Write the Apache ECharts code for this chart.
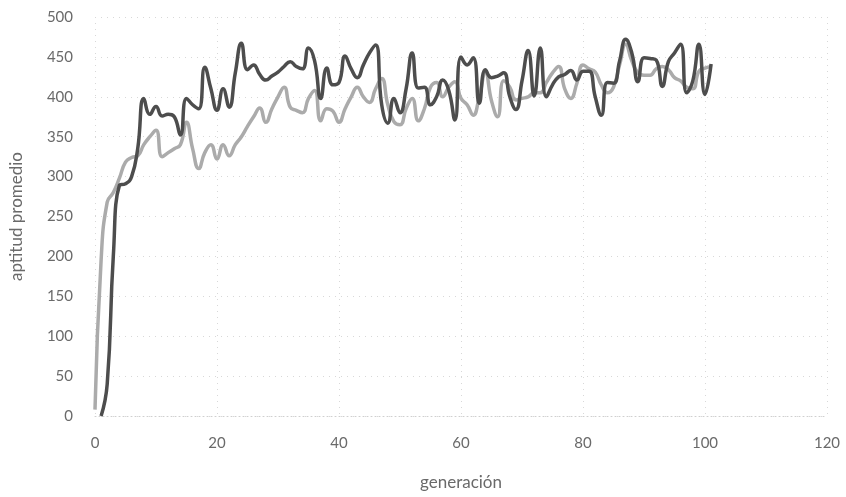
<!DOCTYPE html>
<html>
<head>
<meta charset="utf-8">
<script src="https://cdn.jsdelivr.net/npm/echarts@6/dist/echarts.min.js"></script>
<style>
  html, body { margin: 0; padding: 0; background: #ffffff; }
  #chart { width: 846px; height: 497px; }
</style>
</head>
<body>
<div id="chart"></div>
<script>
// aptitud promedio por generación
var oscura = [null, 0, 40, 200, 289, 291, 300, 335, 398, 378,
  388, 376, 378, 375, 352, 398, 390, 385, 437, 410,
  383, 410, 387, 430, 467, 434, 440, 428, 421, 426,
  431, 438, 444, 438, 435, 461, 445, 398, 436, 415,
  418, 451, 435, 424, 440, 455, 465, 390, 367, 398,
  380, 410, 455, 411, 412, 390, 400, 421, 408, 371,
  450, 440, 449, 392, 434, 424, 426, 430, 400, 384,
  420, 458, 401, 461, 400, 415, 425, 428, 433, 421,
  432, 432, 400, 377, 418, 417, 445, 472, 455, 419,
  449, 448, 446, 413, 444, 455, 466, 405, 420, 466,
  403, 441];
var clara = [8, 195, 268, 280, 298, 318, 324, 326, 340, 350,
  358, 325, 330, 335, 340, 368, 335, 310, 330, 340,
  322, 340, 326, 340, 350, 363, 375, 386, 368, 385,
  400, 412, 387, 383, 380, 398, 408, 370, 385, 382,
  368, 385, 400, 412, 400, 393, 410, 423, 390, 369,
  365, 385, 398, 370, 385, 412, 418, 400, 412, 419,
  398, 390, 377, 400, 430, 395, 375, 420, 412, 396,
  398, 400, 405, 405, 418, 430, 438, 410, 398, 417,
  440, 435, 431, 415, 405, 412, 440, 466, 445, 430,
  427, 427, 435, 438, 434, 424, 420, 412, 410, 432,
  436, 438];

// generaciones 0..101
var generacion = [];
for (var i = 0; i < clara.length; i++) {
  generacion.push(i);
}

function pares(valores) {
  var res = [];
  for (var i = 0; i < valores.length; i++) {
    res.push([generacion[i], valores[i]]);
  }
  return res;
}

var chart = echarts.init(document.getElementById('chart'));
var fuente = 'Lato';
var gris = '#6a6a6a';

chart.setOption({
  animation: false,
  backgroundColor: '#ffffff',
  grid: { left: 95, right: 19, top: 17, bottom: 81 },
  xAxis: {
    type: 'value',
    min: 0, max: 120, interval: 20,
    name: 'generación',
    nameLocation: 'middle',
    nameGap: 58,
    nameTextStyle: { fontFamily: fuente, fontSize: 17, color: gris },
    axisLine: { show: true, lineStyle: { color: '#cfcfcf', type: [1, 3] } },
    axisTick: { show: false },
    axisLabel: { margin: 20, fontFamily: fuente, fontSize: 15, color: gris },
    splitLine: { show: true, lineStyle: { color: '#d8d8d8', type: [1, 5] } }
  },
  yAxis: {
    type: 'value',
    min: 0, max: 500, interval: 50,
    name: 'aptitud promedio',
    nameLocation: 'middle',
    nameGap: 70,
    nameTextStyle: { fontFamily: fuente, fontSize: 17, color: gris },
    axisLine: { show: false },
    axisTick: { show: false },
    axisLabel: { margin: 22, fontFamily: fuente, fontSize: 15, color: gris },
    splitLine: { show: true, lineStyle: { color: '#d8d8d8', type: [1, 5] } }
  },
  series: [
    {
      name: 'clara',
      type: 'line',
      data: pares(clara),
      smooth: 0.5,
      showSymbol: false,
      lineStyle: { color: '#ababab', width: 3.5 }
    },
    {
      name: 'oscura',
      type: 'line',
      data: pares(oscura),
      smooth: 0.5,
      showSymbol: false,
      lineStyle: { color: '#4d4d4d', width: 3.5 }
    }
  ]
});
</script>
</body>
</html>
